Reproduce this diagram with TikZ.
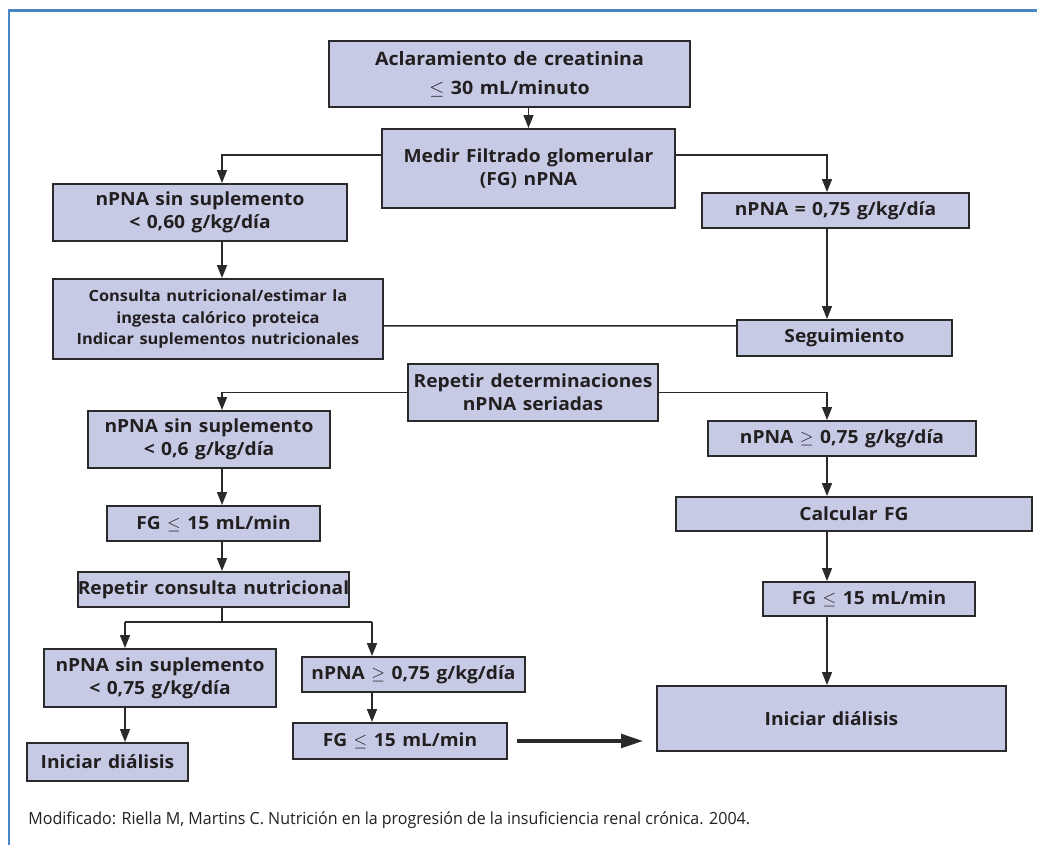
\documentclass[tikz,border=0pt]{standalone}
\usepackage{fontspec}
\usepackage{tikz}
\usetikzlibrary{arrows.meta}
\setmainfont{Open Sans}
\newfontfamily\boxfont[FakeStretch=1.06,WordSpace=1.3]{Open Sans}
\newfontfamily\notefont[FakeStretch=0.96]{Open Sans}
\definecolor{boxfill}{HTML}{C6CAE5}
\definecolor{boxline}{HTML}{2A2A2A}
\definecolor{framec}{HTML}{4A86C5}
\definecolor{inkc}{HTML}{231F20}

\begin{document}
\begin{tikzpicture}[
  box/.style={draw=boxline, line width=1.1pt, fill=boxfill, inner sep=0pt,
    align=center, text=inkc, font=\boxfont\bfseries\fontsize{10.3}{13.2}\selectfont},
  arr/.style={draw=boxline, line width=0.85pt, -{Triangle[length=0.26cm,width=0.2cm]}},
  link/.style={draw=boxline, line width=0.85pt},
  fat/.style={draw=boxline, line width=2.8pt, -{Triangle[length=0.46cm,width=0.26cm]}}]
  \useasboundingbox (0,0) rectangle (20.74,-16.9);
  \draw[framec, line width=1.7pt] (20.74,-0.22) -- (0.18,-0.22) -- (0.18,-16.9);

  % column lines
  \coordinate (lcol) at (4.44,0);
  \coordinate (rcol) at (16.54,0);
  \coordinate (split) at (4.44,-12.44);
  \coordinate (acol) at (2.50,-12.44);
  \coordinate (bcol) at (7.44,-12.44);

  \node[box, minimum width=7.22cm, minimum height=1.32cm, font=\boxfont\bfseries\fontsize{10.5}{16.5}\selectfont] (acl) at (10.19,-1.48)
    {Aclaramiento de creatinina\\$\leq$ 30 mL/minuto};
  \node[box, minimum width=5.86cm, minimum height=1.58cm] (medir) at (10.57,-3.37)
    {Medir Filtrado glomerular\\(FG) nPNA};
  \node[box, minimum width=5.88cm, minimum height=1.14cm] (sinsup1) at (4.00,-4.25)
    {nPNA sin suplemento\\< 0,60 g/kg/día};
  \node[box, minimum width=5.34cm, minimum height=0.70cm] (igual) at (16.71,-4.21)
    {nPNA = 0,75 g/kg/día};
  \node[box, minimum width=6.60cm, minimum height=1.60cm, font=\boxfont\bfseries\fontsize{8.8}{12.3}\selectfont] (consulta) at (4.36,-6.38)
    {Consulta nutricional/estimar la\\ingesta calórico proteica\\Indicar suplementos nutricionales};
  \node[box, minimum width=4.30cm, minimum height=0.72cm] (seguim) at (16.89,-6.76)
    {Seguimiento};
  \node[box, minimum width=5.00cm, minimum height=1.14cm] (repetir) at (10.66,-7.85)
    {Repetir determinaciones\\nPNA seriadas};
  \node[box, minimum width=4.84cm, minimum height=1.14cm] (sinsup2) at (4.18,-8.79)
    {nPNA sin suplemento\\< 0,6 g/kg/día};
  \node[box, minimum width=5.36cm, minimum height=0.70cm] (mayor1) at (16.84,-8.77)
    {nPNA $\geq$ 0,75 g/kg/día};
  \node[box, minimum width=4.26cm, minimum height=0.70cm] (fg1) at (4.27,-10.47)
    {FG $\leq$ 15 mL/min};
  \node[box, minimum width=7.12cm, minimum height=0.68cm] (calcular) at (17.08,-10.28)
    {Calcular FG};
  \node[box, minimum width=5.34cm, minimum height=0.70cm] (repcons) at (4.27,-11.79)
    {Repetir consulta nutricional};
  \node[box, minimum width=4.24cm, minimum height=0.68cm] (fg2) at (17.38,-11.98)
    {FG $\leq$ 15 mL/min};
  \node[box, minimum width=4.64cm, minimum height=1.16cm] (sinsup3) at (3.20,-13.56)
    {nPNA sin suplemento\\< 0,75 g/kg/día};
  \node[box, minimum width=4.46cm, minimum height=0.70cm] (mayor2) at (8.27,-13.49)
    {nPNA $\geq$ 0,75 g/kg/día};
  \node[box, minimum width=4.28cm, minimum height=0.72cm] (fg3) at (8.00,-14.82)
    {FG $\leq$ 15 mL/min};
  \node[box, minimum width=6.98cm, minimum height=1.30cm] (inic1) at (16.63,-14.37)
    {Iniciar diálisis};
  \node[box, minimum width=3.22cm, minimum height=0.76cm] (inic2) at (2.15,-15.24)
    {Iniciar diálisis};

  \draw[arr] (acl.south -| medir.north) -- (medir.north);
  \draw[arr] ([yshift=0.27cm]medir.west) -| (lcol |- sinsup1.north);
  \draw[arr] ([yshift=0.27cm]medir.east) -| (rcol |- igual.north);
  \draw[arr] (lcol |- sinsup1.south) -- (lcol |- consulta.north);
  \draw[arr] (rcol |- igual.south) -- (rcol |- seguim.north);
  \draw[link] ([yshift=-0.14cm]consulta.east) -- ([yshift=0.24cm]seguim.west);
  \draw[arr] (repetir.west) -| (lcol |- sinsup2.north);
  \draw[arr] (repetir.east) -| (rcol |- mayor1.north);
  \draw[arr] (lcol |- sinsup2.south) -- (lcol |- fg1.north);
  \draw[arr] (lcol |- fg1.south) -- (lcol |- repcons.north);
  \draw[link] (lcol |- repcons.south) -- (split);
  \draw[link] (acol) -- (bcol);
  \draw[arr] (acol) -- (acol |- sinsup3.north);
  \draw[arr] (bcol) -- (bcol |- mayor2.north);
  \draw[arr] (acol |- sinsup3.south) -- (acol |- inic2.north);
  \draw[arr] (bcol |- mayor2.south) -- (bcol |- fg3.north);
  \draw[arr] (rcol |- mayor1.south) -- (rcol |- calcular.north);
  \draw[arr] (rcol |- calcular.south) -- (rcol |- fg2.north);
  \draw[arr] (rcol |- fg2.south) -- (rcol |- inic1.north);
  \draw[fat, shorten <=0.18cm, shorten >=0.24cm] (fg3.east) -- (fg3.east -| inic1.west);

  \node[anchor=base west, inner sep=0pt, text=inkc, font=\notefont\fontsize{9.5}{11}\selectfont] (nota) at (0.56,-16.5)
    {Modificado: Riella M, Martins C. Nutrición en la progresión de la insuficiencia renal crónica. 2004.};
\end{tikzpicture}
\end{document}
